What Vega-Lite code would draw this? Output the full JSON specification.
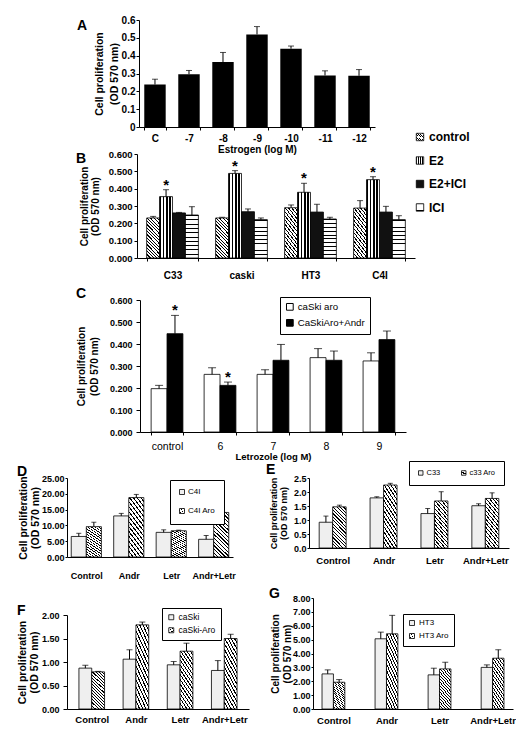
{
"$schema": "https://vega.github.io/schema/vega-lite/v6.json",
"padding": {"left": 17, "top": 15, "right": 0, "bottom": 0},
"background": "white",
"params": [
{"name": "hatch", "value": {"gradient": "linear", "x1": 0, "y1": 1, "x2": 0.4, "y2": -0.2, "stops": [
{"offset":0,"color":"#000"},{"offset":0.022,"color":"#000"},{"offset":0.022,"color":"#fff"},{"offset":0.0625,"color":"#fff"},
{"offset":0.0625,"color":"#000"},{"offset":0.084,"color":"#000"},{"offset":0.084,"color":"#fff"},{"offset":0.125,"color":"#fff"},
{"offset":0.125,"color":"#000"},{"offset":0.147,"color":"#000"},{"offset":0.147,"color":"#fff"},{"offset":0.1875,"color":"#fff"},
{"offset":0.1875,"color":"#000"},{"offset":0.209,"color":"#000"},{"offset":0.209,"color":"#fff"},{"offset":0.25,"color":"#fff"},
{"offset":0.25,"color":"#000"},{"offset":0.272,"color":"#000"},{"offset":0.272,"color":"#fff"},{"offset":0.3125,"color":"#fff"},
{"offset":0.3125,"color":"#000"},{"offset":0.334,"color":"#000"},{"offset":0.334,"color":"#fff"},{"offset":0.375,"color":"#fff"},
{"offset":0.375,"color":"#000"},{"offset":0.397,"color":"#000"},{"offset":0.397,"color":"#fff"},{"offset":0.4375,"color":"#fff"},
{"offset":0.4375,"color":"#000"},{"offset":0.459,"color":"#000"},{"offset":0.459,"color":"#fff"},{"offset":0.5,"color":"#fff"},
{"offset":0.5,"color":"#000"},{"offset":0.522,"color":"#000"},{"offset":0.522,"color":"#fff"},{"offset":0.5625,"color":"#fff"},
{"offset":0.5625,"color":"#000"},{"offset":0.584,"color":"#000"},{"offset":0.584,"color":"#fff"},{"offset":0.625,"color":"#fff"},
{"offset":0.625,"color":"#000"},{"offset":0.647,"color":"#000"},{"offset":0.647,"color":"#fff"},{"offset":0.6875,"color":"#fff"},
{"offset":0.6875,"color":"#000"},{"offset":0.709,"color":"#000"},{"offset":0.709,"color":"#fff"},{"offset":0.75,"color":"#fff"},
{"offset":0.75,"color":"#000"},{"offset":0.772,"color":"#000"},{"offset":0.772,"color":"#fff"},{"offset":0.8125,"color":"#fff"},
{"offset":0.8125,"color":"#000"},{"offset":0.834,"color":"#000"},{"offset":0.834,"color":"#fff"},{"offset":0.875,"color":"#fff"},
{"offset":0.875,"color":"#000"},{"offset":0.897,"color":"#000"},{"offset":0.897,"color":"#fff"},{"offset":0.9375,"color":"#fff"},
{"offset":0.9375,"color":"#000"},{"offset":0.959,"color":"#000"},{"offset":0.959,"color":"#fff"},{"offset":1,"color":"#fff"}]}},
{"name": "checker", "value": {"gradient": "linear", "x1": 0, "y1": 0, "x2": 1, "y2": 0, "stops": [
{"offset":0,"color":"#000"},{"offset":0.125,"color":"#000"},{"offset":0.125,"color":"#fff"},{"offset":0.25,"color":"#fff"},
{"offset":0.25,"color":"#000"},{"offset":0.375,"color":"#000"},{"offset":0.375,"color":"#fff"},{"offset":0.5,"color":"#fff"},
{"offset":0.5,"color":"#000"},{"offset":0.625,"color":"#000"},{"offset":0.625,"color":"#fff"},{"offset":0.75,"color":"#fff"},
{"offset":0.75,"color":"#000"},{"offset":0.875,"color":"#000"},{"offset":0.875,"color":"#fff"},{"offset":1,"color":"#fff"}]}},
{"name": "brick", "value": {"gradient": "linear", "x1": 0, "y1": 0, "x2": 0, "y2": 1, "stops": [
{"offset":0,"color":"#000"},{"offset":0.025,"color":"#000"},{"offset":0.025,"color":"#fff"},{"offset":0.1,"color":"#fff"},
{"offset":0.1,"color":"#000"},{"offset":0.125,"color":"#000"},{"offset":0.125,"color":"#fff"},{"offset":0.2,"color":"#fff"},
{"offset":0.2,"color":"#000"},{"offset":0.225,"color":"#000"},{"offset":0.225,"color":"#fff"},{"offset":0.3,"color":"#fff"},
{"offset":0.3,"color":"#000"},{"offset":0.325,"color":"#000"},{"offset":0.325,"color":"#fff"},{"offset":0.4,"color":"#fff"},
{"offset":0.4,"color":"#000"},{"offset":0.425,"color":"#000"},{"offset":0.425,"color":"#fff"},{"offset":0.5,"color":"#fff"},
{"offset":0.5,"color":"#000"},{"offset":0.525,"color":"#000"},{"offset":0.525,"color":"#fff"},{"offset":0.6,"color":"#fff"},
{"offset":0.6,"color":"#000"},{"offset":0.625,"color":"#000"},{"offset":0.625,"color":"#fff"},{"offset":0.7,"color":"#fff"},
{"offset":0.7,"color":"#000"},{"offset":0.725,"color":"#000"},{"offset":0.725,"color":"#fff"},{"offset":0.8,"color":"#fff"},
{"offset":0.8,"color":"#000"},{"offset":0.825,"color":"#000"},{"offset":0.825,"color":"#fff"},{"offset":0.9,"color":"#fff"},
{"offset":0.9,"color":"#000"},{"offset":0.925,"color":"#000"},{"offset":0.925,"color":"#fff"},{"offset":1,"color":"#fff"}]}}
],
"resolve": {"scale": {"color": "independent", "xOffset": "independent"}, "legend": {"color": "independent"}},
"spacing": 7,
"vconcat": [
{
"resolve": {"scale": {"color": "independent", "xOffset": "independent"}, "legend": {"color": "independent"}},
"spacing": -1,
"vconcat": [
{
"resolve": {"scale": {"color": "independent", "xOffset": "independent"}, "legend": {"color": "independent"}},
"spacing": 7,
"vconcat": [
{
"resolve": {"scale": {"color": "independent", "xOffset": "independent"}, "legend": {"color": "independent"}},
"spacing": -5,
"vconcat": [
{
"resolve": {"scale": {"color": "independent", "xOffset": "independent"}, "legend": {"color": "independent"}},
"spacing": 9,
"hconcat": [
{"width": 1, "height": 1, "data": {"values": []}, "mark": "point", "encoding": {}},
{
"width": 236, "height": 107,
"title": {"text": "A", "dx": -62, "dy": 22},
"data": {"values": [
{"c": "C", "v": 0.238, "hi": 0.268},
{"c": "-7", "v": 0.296, "hi": 0.317},
{"c": "-8", "v": 0.364, "hi": 0.418},
{"c": "-9", "v": 0.519, "hi": 0.563},
{"c": "-10", "v": 0.439, "hi": 0.454},
{"c": "-11", "v": 0.289, "hi": 0.315},
{"c": "-12", "v": 0.287, "hi": 0.322}
]},
"encoding": {"x": {"field": "c", "type": "nominal", "sort": null, "scale": {"paddingInner": 0.37, "paddingOuter": 0.155}, "axis": {"title": "Estrogen  (log M)", "labelFontSize": 10, "titleFontSize": 10, "tickSize": 3, "labelPadding": 3, "titlePadding": 1}}},
"layer": [
{"mark": {"type": "bar", "fill": "#000"}, "encoding": {"y": {"field": "v", "type": "quantitative", "scale": {"domain": [0, 0.6]}, "axis": {"values": [0, 0.1, 0.2, 0.3, 0.4, 0.5, 0.6], "tickCount": 50, "format": "~g", "labelOverlap": false, "title": ["Cell proliferation", "(OD 570 nm)"], "labelFontSize": 10, "titleFontSize": 10.5, "tickSize": 3, "labelPadding": 1, "titlePadding": 2, "titleLineHeight": 15}}}},
{"mark": {"type": "rule", "color": "#000"}, "encoding": {"y": {"field": "v", "type": "quantitative", "scale": {"domain": [0, 0.6]}}, "y2": {"field": "hi"}}},
{"mark": {"type": "tick", "color": "#000", "size": 6, "thickness": 1}, "encoding": {"y": {"field": "hi", "type": "quantitative", "scale": {"domain": [0, 0.6]}}}}
]
}
]
},
{
"resolve": {"scale": {"color": "independent", "xOffset": "independent"}, "legend": {"color": "independent"}},
"spacing": 8,
"hconcat": [
{"width": 1, "height": 1, "data": {"values": []}, "mark": "point", "encoding": {}},
{
"width": 278, "height": 104,
"title": {"text": "B", "dx": -61, "dy": 21},
"data": {"values": [
{"c": "C33", "s": "control", "v": 0.231, "hi": 0.240, "star": 0},
{"c": "C33", "s": "E2", "v": 0.354, "hi": 0.394, "star": 1},
{"c": "C33", "s": "E2+ICI", "v": 0.260, "hi": 0.263, "star": 0},
{"c": "C33", "s": "ICI", "v": 0.248, "hi": 0.296, "star": 0},
{"c": "caski", "s": "control", "v": 0.231, "hi": 0.235, "star": 0},
{"c": "caski", "s": "E2", "v": 0.488, "hi": 0.504, "star": 1},
{"c": "caski", "s": "E2+ICI", "v": 0.267, "hi": 0.283, "star": 0},
{"c": "caski", "s": "ICI", "v": 0.221, "hi": 0.231, "star": 0},
{"c": "HT3", "s": "control", "v": 0.290, "hi": 0.306, "star": 0},
{"c": "HT3", "s": "E2", "v": 0.379, "hi": 0.431, "star": 1},
{"c": "HT3", "s": "E2+ICI", "v": 0.265, "hi": 0.310, "star": 0},
{"c": "HT3", "s": "ICI", "v": 0.225, "hi": 0.235, "star": 0},
{"c": "C4I", "s": "control", "v": 0.288, "hi": 0.331, "star": 0},
{"c": "C4I", "s": "E2", "v": 0.452, "hi": 0.469, "star": 1},
{"c": "C4I", "s": "E2+ICI", "v": 0.265, "hi": 0.298, "star": 0},
{"c": "C4I", "s": "ICI", "v": 0.221, "hi": 0.244, "star": 0}
]},
"encoding": {
"x": {"field": "c", "type": "nominal", "sort": null, "scale": {"paddingInner": 0.25, "paddingOuter": 0.14}, "axis": {"title": null, "labelFontSize": 10, "tickSize": 3, "labelPadding": 9}},
"xOffset": {"field": "s", "type": "nominal", "sort": null, "scale": {"domain": ["control", "E2", "E2+ICI", "ICI"], "paddingInner": 0, "paddingOuter": 0}}
},
"layer": [
{"mark": {"type": "bar", "stroke": "#000", "strokeWidth": 0.8}, "encoding": {
"y": {"field": "v", "type": "quantitative", "scale": {"domain": [0, 0.6]}, "axis": {"values": [0, 0.1, 0.2, 0.3, 0.4, 0.5, 0.6], "tickCount": 50, "format": ".3f", "labelOverlap": false, "title": ["Cell proliferation", "(OD 570 nm)"], "labelFontSize": 9.5, "titleFontSize": 10, "tickSize": 3, "labelPadding": 2, "titlePadding": 8, "titleLineHeight": 11}},
"fill": {"field": "s", "type": "nominal", "sort": null, "scale": {"domain": ["control", "E2", "E2+ICI", "ICI"], "range": [{"expr": "hatch"}, {"expr": "checker"}, "#111111", {"expr": "brick"}]}, "legend": {"title": null, "orient": "none", "legendX": 347, "legendY": 111, "padding": 0, "labelFont": "'Liberation Sans Narrow', 'Liberation Sans', sans-serif", "labelFontSize": 12, "labelFontWeight": "bold", "labelColor": "#000", "symbolType": "square", "symbolSize": 55, "symbolStrokeColor": "#000", "symbolStrokeWidth": 0.8, "rowPadding": 11.5, "labelOffset": 3}}
}},
{"mark": {"type": "rule", "color": "#000"}, "encoding": {"y": {"field": "v", "type": "quantitative", "scale": {"domain": [0, 0.6]}}, "y2": {"field": "hi"}}},
{"mark": {"type": "tick", "color": "#000", "size": 6, "thickness": 1}, "encoding": {"y": {"field": "hi", "type": "quantitative", "scale": {"domain": [0, 0.6]}}}},
{"transform": [{"filter": "datum.star == 1"}], "mark": {"type": "text", "text": "*", "fontSize": 15, "fontWeight": "bold", "font": "Liberation Sans", "baseline": "alphabetic", "color": "#000"}, "encoding": {"y": {"field": "hi", "type": "quantitative", "scale": {"domain": [0, 0.6]}}}}
]
}
]
}
]
},
{
"resolve": {"scale": {"color": "independent", "xOffset": "independent"}, "legend": {"color": "independent"}},
"spacing": 8,
"hconcat": [
{"width": 1, "height": 1, "data": {"values": []}, "mark": "point", "encoding": {}},
{
"width": 266, "height": 132,
"title": {"text": "C", "dx": -64, "dy": 9},
"data": {"values": [
{"c": "control", "s": "caSki aro", "v": 0.197, "hi": 0.212, "star": 0},
{"c": "control", "s": "CaSkiAro+Andr", "v": 0.447, "hi": 0.530, "star": 1},
{"c": "6", "s": "caSki aro", "v": 0.262, "hi": 0.292, "star": 0},
{"c": "6", "s": "CaSkiAro+Andr", "v": 0.212, "hi": 0.227, "star": 1},
{"c": "7", "s": "caSki aro", "v": 0.262, "hi": 0.283, "star": 0},
{"c": "7", "s": "CaSkiAro+Andr", "v": 0.326, "hi": 0.398, "star": 0},
{"c": "8", "s": "caSki aro", "v": 0.338, "hi": 0.379, "star": 0},
{"c": "8", "s": "CaSkiAro+Andr", "v": 0.326, "hi": 0.368, "star": 0},
{"c": "9", "s": "caSki aro", "v": 0.323, "hi": 0.360, "star": 0},
{"c": "9", "s": "CaSkiAro+Andr", "v": 0.420, "hi": 0.459, "star": 0}
]},
"encoding": {
"x": {"field": "c", "type": "nominal", "sort": null, "scale": {"paddingInner": 0.4, "paddingOuter": 0.21}, "axis": {"title": "Letrozole (log M)", "labelFontSize": 10.5, "labelFontWeight": "normal", "titleFontSize": 9.5, "tickSize": 3, "labelPadding": 6, "titlePadding": 0}},
"xOffset": {"field": "s", "type": "nominal", "sort": null, "scale": {"domain": ["caSki aro", "CaSkiAro+Andr"], "paddingInner": 0, "paddingOuter": 0}}
},
"layer": [
{"mark": {"type": "bar", "stroke": "#000", "strokeWidth": 0.8}, "encoding": {
"y": {"field": "v", "type": "quantitative", "scale": {"domain": [0, 0.6]}, "axis": {"values": [0, 0.1, 0.2, 0.3, 0.4, 0.5, 0.6], "tickCount": 50, "format": ".3f", "labelOverlap": false, "title": ["Cell proliferation", "(OD 570 nm)"], "labelFontSize": 9, "titleFontSize": 10, "tickSize": 4, "labelPadding": 4, "titlePadding": 10, "titleLineHeight": 13}},
"color": {"field": "s", "type": "nominal", "sort": null, "scale": {"domain": ["caSki aro", "CaSkiAro+Andr"], "range": ["#ffffff", "#000000"]}, "legend": {"title": null, "orient": "none", "legendX": 140, "legendY": -3, "strokeColor": "#000", "fillColor": "#fff", "padding": 5, "labelFontSize": 9.7, "labelFontWeight": "normal", "symbolType": "square", "symbolSize": 45, "symbolStrokeColor": "#000", "symbolStrokeWidth": 1, "rowPadding": 4, "labelOffset": 3}}
}},
{"mark": {"type": "rule", "color": "#000"}, "encoding": {"y": {"field": "v", "type": "quantitative", "scale": {"domain": [0, 0.6]}}, "y2": {"field": "hi"}}},
{"mark": {"type": "tick", "color": "#000", "size": 8, "thickness": 1}, "encoding": {"y": {"field": "hi", "type": "quantitative", "scale": {"domain": [0, 0.6]}}}},
{"transform": [{"filter": "datum.star == 1"}], "mark": {"type": "text", "text": "*", "fontSize": 15, "fontWeight": "bold", "font": "Liberation Sans", "baseline": "alphabetic", "color": "#000"}, "encoding": {"y": {"field": "hi", "type": "quantitative", "scale": {"domain": [0, 0.6]}}}}
]
}
]
}
]
},
{
"resolve": {"scale": {"color": "independent", "xOffset": "independent"}, "legend": {"color": "independent"}},
"spacing": 30,
"hconcat": [
{
"width": 166, "height": 79,
"title": {"text": "D", "dx": -50, "dy": 9},
"data": {"values": [
{"c": "Control", "s": "C4I", "v": 6.5, "hi": 7.5},
{"c": "Control", "s": "C4I Aro", "v": 9.6, "hi": 11.0},
{"c": "Andr", "s": "C4I", "v": 13.0, "hi": 13.8},
{"c": "Andr", "s": "C4I Aro", "v": 18.8, "hi": 19.8},
{"c": "Letr", "s": "C4I", "v": 7.8, "hi": 8.6},
{"c": "Letr", "s": "C4I Aro", "v": 8.3, "hi": 8.5},
{"c": "Andr+Letr", "s": "C4I", "v": 5.6, "hi": 6.8},
{"c": "Andr+Letr", "s": "C4I Aro", "v": 14.1, "hi": 15.4}
]},
"encoding": {
"x": {"field": "c", "type": "nominal", "sort": null, "scale": {"paddingInner": 0.29, "paddingOuter": 0.1}, "axis": {"title": null, "labelFontSize": 9, "ticks": false, "labelPadding": 14}},
"xOffset": {"field": "s", "type": "nominal", "sort": null, "scale": {"domain": ["C4I", "C4I Aro"], "paddingInner": 0, "paddingOuter": 0}}
},
"layer": [
{"mark": {"type": "bar", "stroke": "#000", "strokeWidth": 0.8}, "encoding": {
"y": {"field": "v", "type": "quantitative", "scale": {"domain": [0, 25]}, "axis": {"values": [0, 5, 10, 15, 20, 25], "tickCount": 50, "format": ".2f", "labelOverlap": false, "title": ["Cell proliferation", "(OD 570 nm)"], "labelFontSize": 9, "titleFontSize": 10.5, "tickSize": 2, "labelPadding": 1, "titlePadding": 1, "titleLineHeight": 12}},
"color": {"field": "s", "type": "nominal", "sort": null, "scale": {"domain": ["C4I", "C4I Aro"], "range": ["#efefef", {"expr": "hatch"}]}, "legend": {"title": null, "orient": "none", "legendX": 103, "legendY": 2, "strokeColor": "#000", "fillColor": "#fff", "padding": 8, "labelFont": "'Liberation Sans Narrow', 'Liberation Sans', sans-serif", "labelFontSize": 8, "labelFontWeight": "normal", "symbolType": "square", "symbolSize": 25, "symbolStrokeColor": "#000", "symbolStrokeWidth": 0.8, "rowPadding": 9, "labelOffset": 2}}
}},
{"mark": {"type": "rule", "color": "#000"}, "encoding": {"y": {"field": "v", "type": "quantitative", "scale": {"domain": [0, 25]}}, "y2": {"field": "hi"}}},
{"mark": {"type": "tick", "color": "#000", "size": 5, "thickness": 1}, "encoding": {"y": {"field": "hi", "type": "quantitative", "scale": {"domain": [0, 25]}}}}
]
},
{
"width": 200, "height": 70,
"title": {"text": "E", "dx": -43, "dy": 20},
"data": {"values": [
{"c": "Control", "s": "C33", "v": 0.92, "hi": 1.14},
{"c": "Control", "s": "c33 Aro", "v": 1.47, "hi": 1.53},
{"c": "Andr", "s": "C33", "v": 1.79, "hi": 1.83},
{"c": "Andr", "s": "c33 Aro", "v": 2.25, "hi": 2.31},
{"c": "Letr", "s": "C33", "v": 1.23, "hi": 1.41},
{"c": "Letr", "s": "c33 Aro", "v": 1.68, "hi": 2.01},
{"c": "Andr+Letr", "s": "C33", "v": 1.51, "hi": 1.58},
{"c": "Andr+Letr", "s": "c33 Aro", "v": 1.77, "hi": 1.97}
]},
"encoding": {
"x": {"field": "c", "type": "nominal", "sort": null, "scale": {"paddingInner": 0.47, "paddingOuter": 0.2}, "axis": {"title": null, "labelFontSize": 9.5, "ticks": false, "labelPadding": 7}},
"xOffset": {"field": "s", "type": "nominal", "sort": null, "scale": {"domain": ["C33", "c33 Aro"], "paddingInner": 0, "paddingOuter": 0}}
},
"layer": [
{"mark": {"type": "bar", "stroke": "#000", "strokeWidth": 0.8}, "encoding": {
"y": {"field": "v", "type": "quantitative", "scale": {"domain": [0, 2.5]}, "axis": {"values": [0, 0.5, 1, 1.5, 2, 2.5], "tickCount": 50, "format": ".1f", "labelOverlap": false, "title": ["Cell proliferation", "(OD 570 nm)"], "labelFontSize": 9, "titleFontSize": 9, "tickSize": 2, "labelPadding": 1, "titlePadding": 5, "titleLineHeight": 10}},
"color": {"field": "s", "type": "nominal", "sort": null, "scale": {"domain": ["C33", "c33 Aro"], "range": ["#efefef", {"expr": "hatch"}]}, "legend": {"title": null, "orient": "none", "direction": "horizontal", "legendX": 100, "legendY": -17, "strokeColor": "#000", "fillColor": "#fff", "padding": 8, "columnPadding": 18, "labelFont": "'Liberation Sans Narrow', 'Liberation Sans', sans-serif", "labelFontSize": 7.5, "labelFontWeight": "normal", "symbolType": "square", "symbolSize": 20, "symbolStrokeColor": "#000", "symbolStrokeWidth": 0.8, "labelOffset": 2}}
}},
{"mark": {"type": "rule", "color": "#000"}, "encoding": {"y": {"field": "v", "type": "quantitative", "scale": {"domain": [0, 2.5]}}, "y2": {"field": "hi"}}},
{"mark": {"type": "tick", "color": "#000", "size": 5, "thickness": 1}, "encoding": {"y": {"field": "hi", "type": "quantitative", "scale": {"domain": [0, 2.5]}}}}
]
}
]
}
]
},
{
"resolve": {"scale": {"color": "independent", "xOffset": "independent"}, "legend": {"color": "independent"}},
"spacing": 20,
"hconcat": [
{
"resolve": {"scale": {"color": "independent", "xOffset": "independent"}, "legend": {"color": "independent"}},
"spacing": 4,
"vconcat": [
{"width": 1, "height": 1, "data": {"values": []}, "mark": "point", "encoding": {}},
{
"width": 182, "height": 94,
"title": {"text": "F", "dx": -50, "dy": 14},
"data": {"values": [
{"c": "Control", "s": "caSki", "v": 0.87, "hi": 0.93},
{"c": "Control", "s": "caSki-Aro", "v": 0.79, "hi": 0.80},
{"c": "Andr", "s": "caSki", "v": 1.06, "hi": 1.26},
{"c": "Andr", "s": "caSki-Aro", "v": 1.79, "hi": 1.85},
{"c": "Letr", "s": "caSki", "v": 0.94, "hi": 1.01},
{"c": "Letr", "s": "caSki-Aro", "v": 1.23, "hi": 1.40},
{"c": "Andr+Letr", "s": "caSki", "v": 0.82, "hi": 1.03},
{"c": "Andr+Letr", "s": "caSki-Aro", "v": 1.50, "hi": 1.59}
]},
"encoding": {
"x": {"field": "c", "type": "nominal", "sort": null, "scale": {"paddingInner": 0.42, "paddingOuter": 0.27}, "axis": {"title": null, "labelFontSize": 9.5, "ticks": false, "labelPadding": 5}},
"xOffset": {"field": "s", "type": "nominal", "sort": null, "scale": {"domain": ["caSki", "caSki-Aro"], "paddingInner": 0, "paddingOuter": 0}}
},
"layer": [
{"mark": {"type": "bar", "stroke": "#000", "strokeWidth": 0.8}, "encoding": {
"y": {"field": "v", "type": "quantitative", "scale": {"domain": [0, 2]}, "axis": {"values": [0, 0.5, 1, 1.5, 2], "tickCount": 50, "format": ".2f", "labelOverlap": false, "title": ["Cell proliferation", "(OD 570 nm)"], "labelFontSize": 9, "titleFontSize": 10.5, "tickSize": 4, "labelPadding": 4, "titlePadding": 2, "titleLineHeight": 12}},
"color": {"field": "s", "type": "nominal", "sort": null, "scale": {"domain": ["caSki", "caSki-Aro"], "range": ["#efefef", {"expr": "hatch"}]}, "legend": {"title": null, "orient": "none", "legendX": 95, "legendY": -7, "strokeColor": "#000", "fillColor": "#fff", "padding": 5, "labelFontSize": 8.5, "labelFontWeight": "normal", "symbolType": "square", "symbolSize": 25, "symbolStrokeColor": "#000", "symbolStrokeWidth": 0.8, "rowPadding": 4, "labelOffset": 3}}
}},
{"mark": {"type": "rule", "color": "#000"}, "encoding": {"y": {"field": "v", "type": "quantitative", "scale": {"domain": [0, 2]}}, "y2": {"field": "hi"}}},
{"mark": {"type": "tick", "color": "#000", "size": 6, "thickness": 1}, "encoding": {"y": {"field": "hi", "type": "quantitative", "scale": {"domain": [0, 2]}}}}
]
}
]
},
{
"width": 200, "height": 111,
"title": {"text": "G", "dx": -44, "dy": 11},
"data": {"values": [
{"c": "Control", "s": "HT3", "v": 2.53, "hi": 2.82},
{"c": "Control", "s": "HT3 Aro", "v": 1.93, "hi": 2.12},
{"c": "Andr", "s": "HT3", "v": 5.06, "hi": 5.54},
{"c": "Andr", "s": "HT3 Aro", "v": 5.42, "hi": 6.75},
{"c": "Letr", "s": "HT3", "v": 2.46, "hi": 2.94},
{"c": "Letr", "s": "HT3 Aro", "v": 2.89, "hi": 3.37},
{"c": "Andr+Letr", "s": "HT3", "v": 3.00, "hi": 3.18},
{"c": "Andr+Letr", "s": "HT3 Aro", "v": 3.66, "hi": 4.27}
]},
"encoding": {
"x": {"field": "c", "type": "nominal", "sort": null, "scale": {"paddingInner": 0.57, "paddingOuter": 0.17}, "axis": {"title": null, "labelFontSize": 9.5, "ticks": false, "labelPadding": 6}},
"xOffset": {"field": "s", "type": "nominal", "sort": null, "scale": {"domain": ["HT3", "HT3 Aro"], "paddingInner": 0, "paddingOuter": 0}}
},
"layer": [
{"mark": {"type": "bar", "stroke": "#000", "strokeWidth": 0.8}, "encoding": {
"y": {"field": "v", "type": "quantitative", "scale": {"domain": [0, 8]}, "axis": {"values": [0, 1, 2, 3, 4, 5, 6, 7, 8], "tickCount": 50, "format": ".2f", "labelOverlap": false, "title": ["Cell proliferation", "(OD 570 nm)"], "labelFontSize": 9, "titleFontSize": 10, "tickSize": 2, "labelPadding": 1, "titlePadding": 0, "titleLineHeight": 12}},
"color": {"field": "s", "type": "nominal", "sort": null, "scale": {"domain": ["HT3", "HT3 Aro"], "range": ["#efefef", {"expr": "hatch"}]}, "legend": {"title": null, "orient": "none", "legendX": 90, "legendY": 16, "strokeColor": "#000", "fillColor": "#fff", "padding": 5, "labelFontSize": 8, "labelFontWeight": "normal", "symbolType": "square", "symbolSize": 25, "symbolStrokeColor": "#000", "symbolStrokeWidth": 0.8, "rowPadding": 3, "labelOffset": 3}}
}},
{"mark": {"type": "rule", "color": "#000"}, "encoding": {"y": {"field": "v", "type": "quantitative", "scale": {"domain": [0, 8]}}, "y2": {"field": "hi"}}},
{"mark": {"type": "tick", "color": "#000", "size": 6, "thickness": 1}, "encoding": {"y": {"field": "hi", "type": "quantitative", "scale": {"domain": [0, 8]}}}}
]
}
]
}
],
"config": {
"view": {"stroke": null},
"font": "Liberation Sans",
"axis": {"grid": false, "labelOverlap": false, "domainColor": "#000", "tickColor": "#000", "labelColor": "#000", "titleColor": "#000", "labelFont": "Liberation Sans", "titleFont": "Liberation Sans", "labelFontWeight": "bold", "titleFontWeight": "bold", "domainWidth": 1, "tickWidth": 1},
"axisX": {"labelAngle": 0, "tickBand": "extent"},
"legend": {"labelFont": "Liberation Sans", "labelColor": "#000"},
"title": {"fontSize": 14, "fontWeight": "bold", "anchor": "start", "frame": "group", "offset": 0, "baseline": "alphabetic", "color": "#000", "font": "Liberation Sans"}
}
}
